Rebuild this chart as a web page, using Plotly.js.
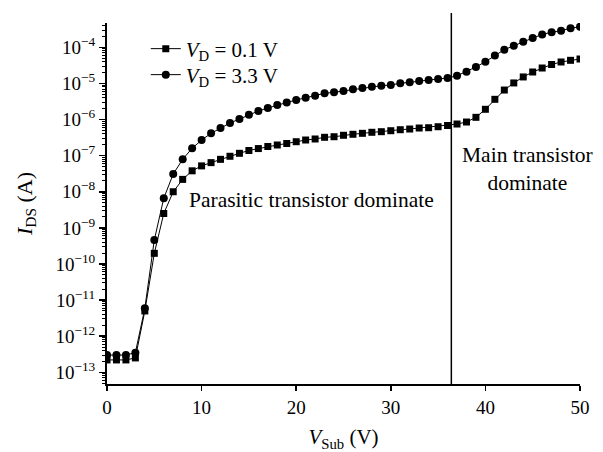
<!DOCTYPE html>
<html>
<head>
<meta charset="utf-8">
<script src="https://cdn.plot.ly/plotly-3.0.1.min.js"></script>
<style>html,body{margin:0;padding:0;background:#fff;}#chart{width:603px;height:452px;}</style>
</head>
<body>
<div id="chart"></div>
<script>
// Substrate voltage (V)
var vSub = [0,1,2,3,4,5,6,7,8,9,10,11,12,13,14,15,16,17,18,19,20,21,22,23,24,25,26,27,28,29,30,31,32,33,34,35,36,37,38,39,40,41,42,43,44,45,46,47,48,49,50];

// I_DS (A) at V_D = 0.1 V
var idsLow = [2.2e-13,2.2e-13,2.2e-13,2.5e-13,5.0e-12,1.97e-10,2.5e-9,1.0e-8,2.2e-8,3.8e-8,5.2e-8,6.4e-8,7.9e-8,9.6e-8,1.16e-7,1.39e-7,1.57e-7,1.79e-7,1.97e-7,2.17e-7,2.43e-7,2.71e-7,2.89e-7,3.22e-7,3.34e-7,3.66e-7,3.90e-7,4.15e-7,4.43e-7,4.6e-7,4.9e-7,5.22e-7,5.46e-7,5.82e-7,5.93e-7,6.32e-7,6.83e-7,7.51e-7,8.53e-7,1.15e-6,1.92e-6,3.63e-6,6.56e-6,1.03e-5,1.51e-5,2.07e-5,2.67e-5,3.34e-5,3.92e-5,4.36e-5,4.74e-5];

// I_DS (A) at V_D = 3.3 V
var idsHigh = [3.0e-13,3.0e-13,3.0e-13,3.5e-13,5.9e-12,4.6e-10,6.6e-9,3.1e-8,7.9e-8,1.6e-7,2.7e-7,4.15e-7,5.8e-7,8.0e-7,1.03e-6,1.36e-6,1.72e-6,2.08e-6,2.52e-6,2.96e-6,3.47e-6,4.02e-6,4.57e-6,5.32e-6,5.67e-6,6.16e-6,6.87e-6,7.46e-6,8.1e-6,8.64e-6,9.04e-6,1.01e-5,1.07e-5,1.17e-5,1.24e-5,1.32e-5,1.41e-5,1.63e-5,2.11e-5,2.85e-5,3.99e-5,5.93e-5,8.6e-5,1.10e-4,1.43e-4,1.81e-4,2.26e-4,2.62e-4,2.88e-4,3.36e-4,3.72e-4];

var seriesNames = ['<i>V</i><sub>D</sub> = 0.1 V', '<i>V</i><sub>D</sub> = 3.3 V'];
var xTickVals = [0,10,20,30,40,50];
var yTickVals = [1e-13,1e-12,1e-11,1e-10,1e-9,1e-8,1e-7,1e-6,1e-5,1e-4];
var yTickText = ['10<sup>−13</sup>','10<sup>−12</sup>','10<sup>−11</sup>','10<sup>−10</sup>','10<sup>−9</sup>','10<sup>−8</sup>','10<sup>−7</sup>','10<sup>−6</sup>','10<sup>−5</sup>','10<sup>−4</sup>'];
var boundaryV = 36.4;

var FONT = 'Liberation Serif, Times New Roman, serif';

var traces = [
  {x: vSub, y: idsLow, name: seriesNames[0], type: 'scatter', mode: 'lines+markers', legend: 'legend',
   line: {color: '#000', width: 1}, marker: {symbol: 'square', size: 7, color: '#000'}},
  {x: vSub, y: idsHigh, name: seriesNames[1], type: 'scatter', mode: 'lines+markers', legend: 'legend2',
   line: {color: '#000', width: 1}, marker: {symbol: 'circle', size: 8, color: '#000'}}
];

var legendBase = {xanchor: 'left', yanchor: 'middle', bgcolor: 'rgba(0,0,0,0)',
                  font: {family: FONT, size: 21, color: '#000'}, itemwidth: 30};

var layout = {
  width: 603, height: 452,
  margin: {l: 107, r: 23, t: 23, b: 68},
  paper_bgcolor: '#fff', plot_bgcolor: '#fff',
  font: {family: FONT, size: 18, color: '#000'},
  showlegend: true,
  legend: Object.assign({}, legendBase, {x: 0.082, y: 0.928}),
  legend2: Object.assign({}, legendBase, {x: 0.082, y: 0.856}),
  xaxis: {
    range: [0, 50], tickvals: xTickVals, showgrid: false, zeroline: false,
    showline: true, linecolor: '#000', linewidth: 2,
    ticks: 'outside', ticklen: 5, tickwidth: 1.5, tickcolor: '#000',
    tickfont: {family: FONT, size: 19, color: '#000'},
    title: {text: '<i>V</i><sub>Sub</sub> (V)', font: {family: FONT, size: 21, color: '#000'}, standoff: 13}
  },
  yaxis: {
    type: 'log', range: [-13.324, -3.327], tickvals: yTickVals, ticktext: yTickText,
    showgrid: false, zeroline: false,
    showline: true, linecolor: '#000', linewidth: 2,
    ticks: 'outside', ticklen: 6, tickwidth: 1.5, tickcolor: '#000',
    minor: {ticks: 'outside', ticklen: 3, tickwidth: 1, tickcolor: '#000', dtick: 'D1', showgrid: false},
    tickfont: {family: FONT, size: 19, color: '#000'},
    title: {text: '<i>I</i><sub>DS</sub> (A)', font: {family: FONT, size: 22, color: '#000'}, standoff: 17}
  },
  shapes: [
    {type: 'line', xref: 'x', yref: 'paper', x0: boundaryV, x1: boundaryV, y0: 0, y1: 1.028,
     line: {color: '#000', width: 1.5}}
  ],
  annotations: [
    {xref: 'paper', yref: 'paper', x: 0.432, y: 0.51, xanchor: 'center', yanchor: 'middle',
     text: 'Parasitic transistor dominate',
     showarrow: false, font: {family: FONT, size: 21.5, color: '#000'}},
    {xref: 'paper', yref: 'paper', x: 0.889, y: 0.596, xanchor: 'center', yanchor: 'middle',
     text: 'Main transistor<br>dominate', align: 'center',
     showarrow: false, font: {family: FONT, size: 21.5, color: '#000'}}
  ]
};

Plotly.newPlot('chart', traces, layout, {displayModeBar: false, staticPlot: true});
</script>
</body>
</html>
